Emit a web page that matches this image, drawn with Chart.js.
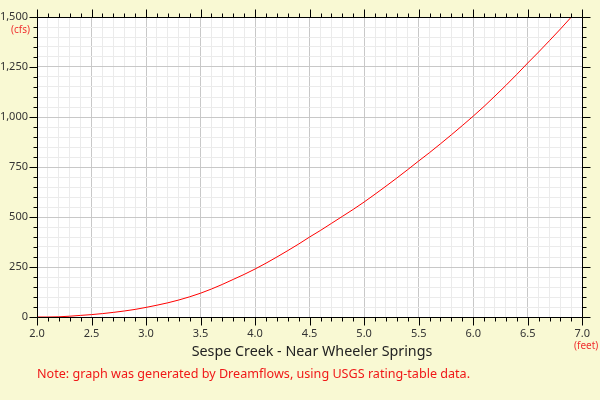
<!DOCTYPE html>
<html>
<head>
<meta charset="utf-8">
<script src="https://cdn.jsdelivr.net/npm/chart.js@4.4.1/dist/chart.umd.min.js"></script>
<style>
  html, body { margin: 0; padding: 0; background: #f9f9d3; }
  #wrap { position: relative; width: 600px; height: 400px; overflow: hidden; background: #f9f9d3; font-family: "Noto Sans", "Open Sans", sans-serif; }
  canvas { position: absolute; left: 0; top: 0; }
  .lbl { position: absolute; white-space: nowrap; line-height: 1; }
  #title { left: 0; width: 624px; text-align: center; top: 344px; font-size: 14.3px; color: #222; }
  #note { left: 37px; top: 368px; font-size: 12.6px; color: #f01818; }
  #ylab { left: 11px; top: 24px; font-size: 10px; color: #f03030; }
  #xlab { left: 574px; top: 340px; font-size: 10px; color: #f03030; }
</style>
</head>
<body>
<div id="wrap">
  <canvas id="c" width="600" height="400"></canvas>
  <div class="lbl" id="ylab">(cfs)</div>
  <div class="lbl" id="xlab">(feet)</div>
  <div class="lbl" id="title">Sespe Creek - Near Wheeler Springs</div>
  <div class="lbl" id="note">Note: graph was generated by Dreamflows, using USGS rating-table data.</div>
</div>
<script>
// Gage height (feet)
const stage = [2.0, 2.1, 2.2, 2.3, 2.4, 2.5, 2.6, 2.7, 2.8, 2.9,
               3.0, 3.1, 3.2, 3.3, 3.4, 3.5, 3.6, 3.7, 3.8, 3.9,
               4.0, 4.1, 4.2, 4.3, 4.4, 4.5, 4.6, 4.7, 4.8, 4.9,
               5.0, 5.1, 5.2, 5.3, 5.4, 5.5, 5.6, 5.7, 5.8, 5.9,
               6.0, 6.1, 6.2, 6.3, 6.4, 6.5, 6.6, 6.7, 6.8, 6.9];
// Discharge (cfs)
const flow = [0, 0, 1, 4, 8, 12, 17, 23, 30, 38,
              48, 59, 71, 85, 101, 119, 140, 163, 188, 213,
              240, 269, 300, 332, 365, 400, 433, 468, 503, 538,
              575, 614, 654, 695, 737, 780, 822, 866, 911, 957,
              1004, 1053, 1105, 1158, 1213, 1270, 1325, 1382, 1440, 1500];
const xMin = 2.0, xMax = 7.0, xStep = 0.1, xMajor = 0.5;
const yMin = 0, yMax = 1500, yStep = 50, yMajor = 250;

const isMult = (v, m) => Math.abs(v / m - Math.round(v / m)) < 1e-6;

const frame = {
  id: 'frame',
  beforeDraw(chart) {
    const {ctx, chartArea: a} = chart;
    ctx.save();
    ctx.fillStyle = '#ffffff';
    ctx.fillRect(a.left, a.top, a.right - a.left, a.bottom - a.top);
    ctx.restore();
  },
  afterDraw(chart) {
    const {ctx, chartArea: a, scales} = chart;
    ctx.save();
    ctx.strokeStyle = '#000';
    ctx.lineWidth = 1;
    const L = Math.round(a.left) + 0.5, R = Math.round(a.right) + 0.5;
    const T = Math.round(a.top) + 0.5, B = Math.round(a.bottom) + 0.5;
    ctx.beginPath();
    ctx.moveTo(L, T); ctx.lineTo(R, T); ctx.lineTo(R, B); ctx.lineTo(L, B); ctx.closePath();
    ctx.stroke();
    ctx.beginPath();
    scales.x.ticks.forEach(t => {
      const px = Math.round(scales.x.getPixelForValue(t.value)) + 0.5;
      const len = isMult(t.value, xMajor) ? 8 : 4;
      ctx.moveTo(px, B); ctx.lineTo(px, B + len);
      ctx.moveTo(px, T); ctx.lineTo(px, T - len);
    });
    scales.y.ticks.forEach(t => {
      const py = Math.round(scales.y.getPixelForValue(t.value)) + 0.5;
      const len = isMult(t.value, yMajor) ? 8 : 4;
      ctx.moveTo(L, py); ctx.lineTo(L - len, py);
      ctx.moveTo(R, py); ctx.lineTo(R + len, py);
    });
    ctx.stroke();
    ctx.restore();
  }
};

new Chart(document.getElementById('c'), {
  type: 'line',
  data: {
    datasets: [{
      data: stage.map((s, i) => ({x: s, y: flow[i]})),
      borderColor: '#ff0000',
      borderWidth: 1,
      pointRadius: 0,
      cubicInterpolationMode: 'monotone',
      fill: false
    }]
  },
  options: {
    responsive: false,
    animation: false,
    devicePixelRatio: 1,
    layout: { padding: { top: 17, right: 13, left: 0, bottom: 0 } },
    plugins: { legend: { display: false }, tooltip: { enabled: false } },
    scales: {
      x: {
        type: 'linear', min: xMin, max: xMax,
        afterFit(s) { s.height = 83; },
        border: { display: false },
        grid: {
          drawTicks: false,
          color: c => isMult(c.tick.value, xMajor) ? '#c8c8c8' : '#ebebeb'
        },
        ticks: {
          stepSize: xStep, autoSkip: false, maxRotation: 0, padding: 10,
          color: '#333', font: { family: '"Noto Sans", "Open Sans", sans-serif', size: 11 },
          callback: v => isMult(v, xMajor) ? Number(v).toFixed(1) : ''
        }
      },
      y: {
        type: 'linear', min: yMin, max: yMax,
        afterFit(s) { s.width = 37; },
        border: { display: false },
        grid: {
          drawTicks: false,
          color: c => isMult(c.tick.value, yMajor) ? '#c8c8c8' : '#ebebeb'
        },
        ticks: {
          stepSize: yStep, autoSkip: false, padding: 9,
          color: '#333', font: { family: '"Noto Sans", "Open Sans", sans-serif', size: 11 },
          callback: v => isMult(v, yMajor) ? Number(v).toLocaleString('en-US') : ''
        }
      }
    }
  },
  plugins: [frame]
});
</script>
</body>
</html>
